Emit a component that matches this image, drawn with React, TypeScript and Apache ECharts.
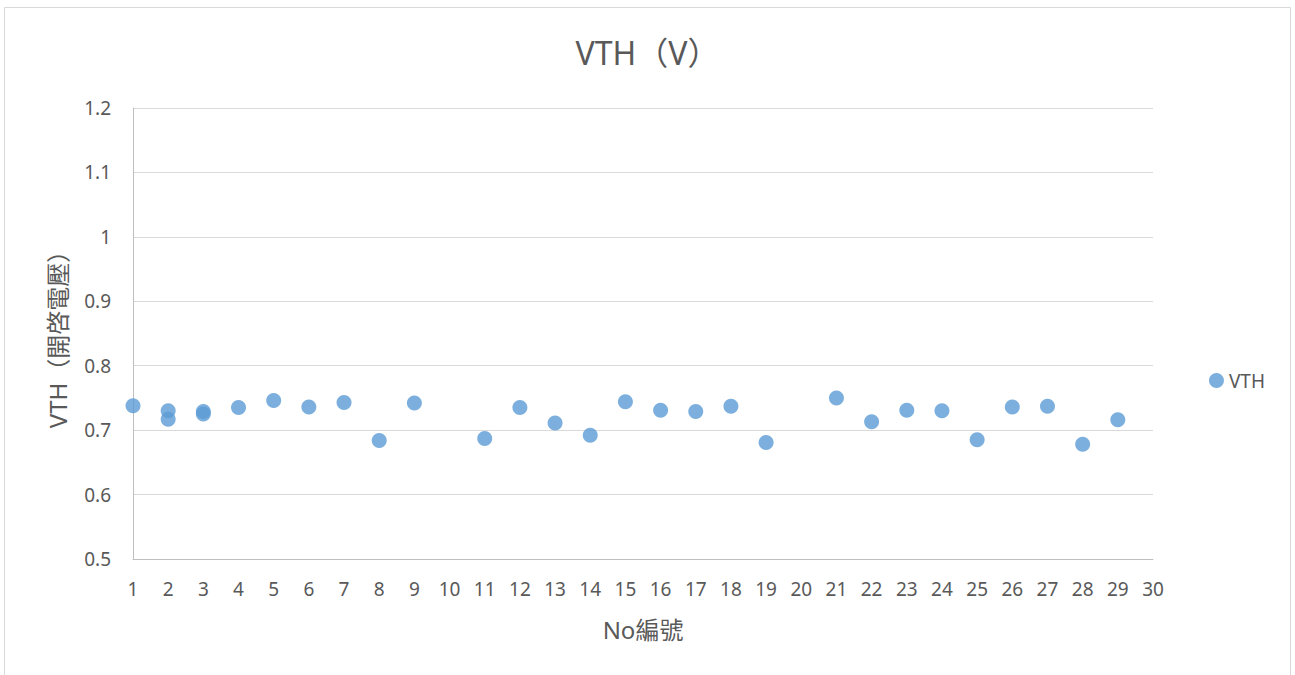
import React, { useEffect, useRef } from "react";
import * as echarts from "echarts";

const titleText = "VTH（V）";
const seriesName = "VTH";
const xAxisName = "No編號";
const yAxisName = "VTH（開啓電壓）";
const noValues = [1, 2, 2, 3, 3, 4, 5, 6, 7, 8, 9, 11, 12, 13, 14, 15, 16, 17, 18, 19, 21, 22, 23, 24, 25, 26, 27, 28, 29];
const vthValues = [0.738, 0.730, 0.717, 0.729, 0.725, 0.735, 0.746, 0.736, 0.743, 0.684, 0.742, 0.687, 0.735, 0.711, 0.692, 0.744, 0.731, 0.729, 0.737, 0.681, 0.750, 0.713, 0.731, 0.730, 0.685, 0.736, 0.737, 0.678, 0.716];

const FONT = "'Noto Sans', 'Noto Sans CJK TC', sans-serif";
const TEXT = "#595959";

export default function App() {
  const ref = useRef<HTMLDivElement>(null);
  useEffect(() => {
    if (!ref.current) return;
    const chart = echarts.init(ref.current, null, { renderer: "svg" });
    const data = noValues.map((x, i) => [x, vthValues[i]]);
    chart.setOption({
      animation: false,
      backgroundColor: "#ffffff",
      textStyle: { fontFamily: FONT },
      graphic: [
        {
          type: "rect",
          shape: { x: 4.5, y: 7.5, width: 1286, height: 700 },
          style: { fill: "none", stroke: "#D9D9D9", lineWidth: 1 },
          silent: true,
        },
      ],
      title: {
        text: titleText,
        left: "center",
        top: 31,
        textStyle: { fontFamily: FONT, fontSize: 32, fontWeight: "normal", color: TEXT },
      },
      legend: {
        right: 25,
        top: 366,
        orient: "vertical",
        icon: "circle",
        itemWidth: 15,
        itemHeight: 15,
        itemGap: 6,
        textStyle: { fontFamily: FONT, fontSize: 19, color: TEXT },
        data: [seriesName],
      },
      grid: { left: 133, right: 142, top: 108, bottom: 116, containLabel: false },
      xAxis: {
        type: "value",
        min: 1,
        max: 30,
        interval: 1,
        name: xAxisName,
        nameLocation: "middle",
        nameGap: 58,
        nameTextStyle: { fontFamily: FONT, fontSize: 24, color: TEXT },
        axisLine: { show: true, lineStyle: { color: "#BFBFBF", width: 1 } },
        axisTick: { show: false },
        axisLabel: { fontFamily: FONT, fontSize: 19, color: TEXT, margin: 20 },
        splitLine: { show: false },
      },
      yAxis: {
        type: "value",
        min: 0.5,
        max: 1.2,
        interval: 0.1,
        name: yAxisName,
        nameLocation: "middle",
        nameGap: 64,
        nameTextStyle: { fontFamily: FONT, fontSize: 24, color: TEXT },
        axisLine: { show: true, lineStyle: { color: "#BFBFBF", width: 1 } },
        axisTick: { show: false },
        axisLabel: {
          fontFamily: FONT,
          fontSize: 19,
          color: TEXT,
          margin: 22,
          formatter: (v: number) => String(Math.round(v * 10) / 10),
        },
        splitLine: { show: true, lineStyle: { color: "#D9D9D9", width: 1 } },
      },
      series: [
        {
          name: seriesName,
          type: "scatter",
          symbol: "circle",
          symbolSize: 15,
          itemStyle: { color: "#5B9BD5" },
          data,
        },
      ],
    });
    return () => chart.dispose();
  }, []);
  return (
    <div
      ref={ref}
      style={{ position: "fixed", left: 0, top: 0, width: 1295, height: 675 }}
    />
  );
}
